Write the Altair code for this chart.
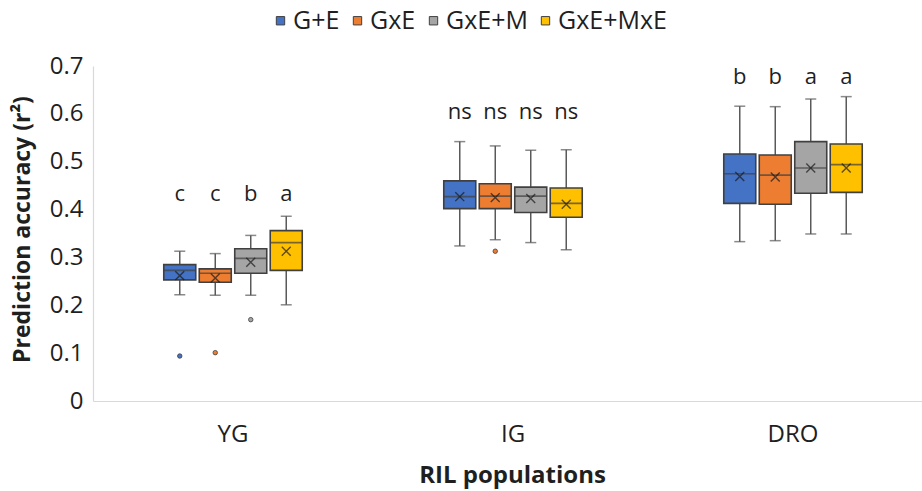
import altair as alt
import pandas as pd

pops = ["YG", "IG", "DRO"]
models = ["G+E", "GxE", "GxE+M", "GxE+MxE"]
colors = ["#4472C4", "#ED7D31", "#A5A5A5", "#FFC000"]

# order: YG(4 models), IG(4 models), DRO(4 models)
lower_whisker = [0.222, 0.221, 0.221, 0.201,
                 0.324, 0.337, 0.331, 0.316,
                 0.333, 0.335, 0.349, 0.349]
q1 = [0.253, 0.248, 0.267, 0.273,
      0.402, 0.402, 0.394, 0.384,
      0.413, 0.411, 0.434, 0.436]
median = [0.273, 0.267, 0.298, 0.331,
          0.427, 0.428, 0.428, 0.413,
          0.475, 0.472, 0.487, 0.494]
q3 = [0.285, 0.276, 0.318, 0.356,
      0.460, 0.454, 0.447, 0.445,
      0.516, 0.514, 0.542, 0.537]
upper_whisker = [0.313, 0.308, 0.346, 0.386,
                 0.542, 0.533, 0.524, 0.525,
                 0.616, 0.615, 0.631, 0.636]
mean = [0.262, 0.257, 0.290, 0.313,
        0.427, 0.425, 0.423, 0.411,
        0.469, 0.468, 0.487, 0.487]
letters = ["c", "c", "b", "a",
           "ns", "ns", "ns", "ns",
           "b", "b", "a", "a"]
letter_y = [0.418, 0.589, 0.662]

outlier_pop = ["YG", "YG", "YG", "IG"]
outlier_model = ["G+E", "GxE", "GxE+M", "GxE"]
outlier_value = [0.094, 0.101, 0.170, 0.313]

rows = []
i = 0
for pi, p in enumerate(pops):
    for m in models:
        rows.append(dict(pop=p, model=m, lw=lower_whisker[i], q1=q1[i], med=median[i],
                         q3=q3[i], uw=upper_whisker[i], mean=mean[i],
                         letter=letters[i], ly=letter_y[pi]))
        i += 1
df = pd.DataFrame(rows)
odf = pd.DataFrame(dict(pop=outlier_pop, model=outlier_model, value=outlier_value))

FONT = "Open Sans"
TXT = "#1f1f1f"
xscale = alt.Scale(range=[0, 840], paddingInner=0.493, paddingOuter=0.2465)
x_enc = alt.X("pop:N", sort=pops, scale=xscale,
              axis=alt.Axis(title="RIL populations", labelAngle=0, ticks=False,
                            domainColor="#d9d9d9", domainWidth=1.2,
                            labelFont=FONT, labelFontSize=24, labelColor=TXT,
                            labelPadding=21, titleFont=FONT, titleFontSize=24,
                            titleFontWeight="bold", titleColor=TXT,
                            titleX=419, titleY=74, titleBaseline="middle"))
xo_enc = alt.XOffset("model:N", sort=models, scale=alt.Scale(paddingInner=0, paddingOuter=0))
yscale = alt.Scale(domain=[0, 0.7], nice=False)
y_axis = alt.Axis(title="Prediction accuracy (r²)", values=[0, 0.1, 0.2, 0.3, 0.4, 0.5, 0.6, 0.7],
                  ticks=False, grid=False, domainColor="#d9d9d9", domainWidth=1.2,
                  labelFont=FONT, labelFontSize=24, labelColor=TXT, labelPadding=10,
                  labelExpr="datum.value == 0 ? '0' : format(datum.value, '.1f')",
                  titleFont=FONT, titleFontSize=23, titleFontWeight="bold", titleColor=TXT,
                  titleX=-71, titleY=163, titleBaseline="middle", titleAngle=-90)

color_scale = alt.Scale(domain=models, range=colors)

base = alt.Chart(df).encode(x=x_enc, xOffset=xo_enc)

whisk = base.mark_rule(color="#595959", strokeWidth=1.5).encode(
    y=alt.Y("lw:Q", scale=yscale, axis=y_axis), y2="uw:Q")
cap_lo = base.mark_tick(color="#595959", thickness=1.5, size=11).encode(y="lw:Q")
cap_hi = base.mark_tick(color="#595959", thickness=1.5, size=11).encode(y="uw:Q")
box = base.mark_bar(size=32, stroke="#404040", strokeWidth=1.6).encode(
    y="q1:Q", y2="q3:Q",
    fill=alt.Fill("model:N", sort=models, scale=color_scale,
                  legend=alt.Legend(title=None, orient="none", direction="horizontal",
                                    legendX=175, legendY=-58, columns=4,
                                    symbolType="square", symbolSize=70,
                                    symbolStrokeColor="#404040", symbolStrokeWidth=1,
                                    labelFont=FONT, labelFontSize=25, labelColor=TXT,
                                    labelOffset=0, columnPadding=5)))
med = base.mark_tick(color="#404040", thickness=1.6, size=32).encode(y="med:Q")
mn = base.mark_point(shape="M-1,-1L1,1M-1,1L1,-1", filled=False, color="#1a1a1a",
                     strokeWidth=1.4, size=80).encode(y="mean:Q")
txt = base.mark_text(fontSize=22, font=FONT, color=TXT, baseline="alphabetic").encode(
    y="ly:Q", text="letter:N")
outl = alt.Chart(odf).mark_point(filled=True, size=20, stroke="#404040", strokeWidth=0.8,
                                 opacity=1).encode(
    x=alt.X("pop:N", sort=pops, scale=xscale),
    xOffset=alt.XOffset("model:N", sort=models, scale=alt.Scale(paddingInner=0, paddingOuter=0)),
    y=alt.Y("value:Q"),
    fill=alt.Fill("model:N", sort=models, scale=color_scale, legend=None))

chart = alt.layer(whisk, cap_lo, cap_hi, box, med, mn, outl, txt).properties(
    width=829, height=335,
    padding={"left": 93, "top": 66, "right": 0, "bottom": 90},
    autosize=alt.AutoSizeParams(type="none"),
    background="white",
).configure_view(stroke=None)

chart.save("out.html", embed_options={"renderer": "svg", "actions": False})
